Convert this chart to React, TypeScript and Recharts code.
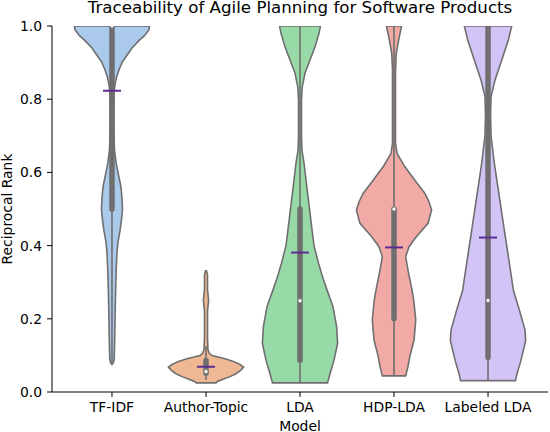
import React from 'react'
import { ScatterChart, Scatter, XAxis, YAxis } from 'recharts'

const models = ['TF-IDF', 'Author-Topic', 'LDA', 'HDP-LDA', 'Labeled LDA']
const fills = ['#abc9ea', '#efb792', '#98daa7', '#f2aaa7', '#d3c4f7']
const gray = '#6f6f6f'
const meanColor = '#5c2d91'

// violin profiles: reciprocal rank levels and half widths (in category units)
const tfidfY = [0.075, 0.08, 0.09, 0.11, 0.16, 0.22, 0.28, 0.34, 0.38, 0.41, 0.44, 0.47, 0.5, 0.53, 0.56, 0.58, 0.6, 0.62, 0.64, 0.66, 0.7, 0.74, 0.78, 0.82, 0.84, 0.86, 0.88, 0.9, 0.92, 0.94, 0.96, 0.975, 0.99, 1.0]
const tfidfW = [0, 0.016, 0.023, 0.026, 0.03, 0.034, 0.039, 0.046, 0.053, 0.064, 0.085, 0.101, 0.112, 0.106, 0.096, 0.08, 0.064, 0.048, 0.037, 0.027, 0.021, 0.019, 0.019, 0.023, 0.032, 0.048, 0.074, 0.106, 0.16, 0.213, 0.287, 0.351, 0.394, 0.4]

const authorY = [0.025, 0.028, 0.035, 0.042, 0.05, 0.06, 0.068, 0.075, 0.083, 0.09, 0.095, 0.1, 0.105, 0.115, 0.15, 0.22, 0.24, 0.25, 0.26, 0.28, 0.32, 0.331]
const authorW = [0.106, 0.117, 0.181, 0.255, 0.319, 0.372, 0.4, 0.362, 0.298, 0.213, 0.138, 0.064, 0.037, 0.021, 0.016, 0.016, 0.024, 0.028, 0.024, 0.016, 0.016, 0.005]

const ldaY = [0.025, 0.05, 0.087, 0.133, 0.178, 0.233, 0.279, 0.31, 0.352, 0.4, 0.443, 0.49, 0.534, 0.579, 0.625, 0.66, 0.7, 0.8, 0.834, 0.871, 0.907, 0.943, 0.98, 1.0]
const ldaW = [0.293, 0.319, 0.362, 0.4, 0.39, 0.351, 0.287, 0.245, 0.197, 0.149, 0.128, 0.106, 0.085, 0.064, 0.043, 0.021, 0.016, 0.016, 0.024, 0.053, 0.106, 0.16, 0.202, 0.218]

const hdpY = [0.044, 0.07, 0.096, 0.142, 0.197, 0.251, 0.279, 0.333, 0.37, 0.397, 0.424, 0.461, 0.497, 0.52, 0.543, 0.579, 0.616, 0.652, 0.68, 0.88, 0.925, 0.962, 1.0]
const hdpW = [0.124, 0.149, 0.167, 0.213, 0.231, 0.21, 0.191, 0.149, 0.124, 0.16, 0.237, 0.362, 0.4, 0.372, 0.327, 0.22, 0.114, 0.032, 0.016, 0.016, 0.024, 0.05, 0.08]

const labeledY = [0.031, 0.051, 0.087, 0.14, 0.169, 0.224, 0.279, 0.352, 0.443, 0.534, 0.625, 0.7, 0.76, 0.807, 0.852, 0.907, 0.962, 1.0]
const labeledW = [0.293, 0.309, 0.351, 0.4, 0.394, 0.333, 0.269, 0.227, 0.173, 0.12, 0.067, 0.032, 0.027, 0.032, 0.074, 0.146, 0.216, 0.252]

const profiles = [
  [tfidfY, tfidfW],
  [authorY, authorW],
  [ldaY, ldaW],
  [hdpY, hdpW],
  [labeledY, labeledW],
]

// inner box stats
const whiskerLow = [0.08, 0.033, 0.025, 0.045, 0.03]
const whiskerHigh = [1.0, 0.125, 1.0, 1.0, 1.0]
const q1 = [0.5, 0.051, 0.087, 0.2, 0.094]
const q3 = [1.0, 0.086, 0.5, 0.5, 1.0]
const medians = [1.0, 0.056, 0.249, 0.5, 0.25]
const means = [0.823, 0.069, 0.381, 0.395, 0.422]

const yTicks = [0, 0.2, 0.4, 0.6, 0.8, 1.0]
const xDomain = [-0.638, 4.638]

function outline(i: number, ys: number[], ws: number[]) {
  const right = ys.map((y, k) => ({ x: i + ws[k], y }))
  const left = ys.map((y, k) => ({ x: i - ws[k], y })).reverse()
  return [...right, ...left]
}

const noDot = () => <g />

const medianDot = (p: any) => (
  <circle cx={p.cx} cy={p.cy} r={2} fill="#fff" stroke={gray} strokeWidth={0.6} />
)

const meanMark = (p: any) => (
  <line x1={p.cx - 9} x2={p.cx + 9} y1={p.cy} y2={p.cy} stroke={meanColor} strokeWidth={2} />
)

export default function App() {
  const medianData = models.map((_, i) => ({ x: i, y: medians[i] }))
  const meanData = models.map((_, i) => ({ x: i, y: means[i] }))
  return (
    <div style={{ position: 'absolute', left: 0, top: 0, width: 550, height: 432, background: '#fff', fontFamily: 'DejaVu Sans' }}>
      <div style={{ position: 'absolute', left: 52, top: 0, width: 496, textAlign: 'center', fontSize: 16.67, lineHeight: '16.67px', color: '#000' }}>
        Traceability of Agile Planning for Software Products
      </div>
      <ScatterChart width={550} height={432} margin={{ top: 26, right: 2, left: 0, bottom: 0 }}>
        <XAxis
          type="number"
          dataKey="x"
          domain={xDomain}
          allowDataOverflow
          ticks={[0, 1, 2, 3, 4]}
          tickFormatter={(v: number) => models[v]}
          height={40}
          tickSize={5}
          tickMargin={5}
          stroke="#000"
          tick={{ fill: '#000', fontSize: 13.9 }}
          label={{ value: 'Model', position: 'insideBottom', offset: 1, fill: '#000', fontSize: 13.9 }}
        />
        <XAxis xAxisId="top" orientation="top" type="number" domain={xDomain} height={0} tick={false} tickLine={false} stroke="#000" />
        <YAxis
          type="number"
          dataKey="y"
          domain={[0, 1]}
          allowDataOverflow
          ticks={yTicks}
          tickFormatter={(v: number) => v.toFixed(1)}
          width={52}
          tickSize={5}
          tickMargin={5}
          stroke="#000"
          tick={{ fill: '#000', fontSize: 13.9 }}
          label={{ value: 'Reciprocal Rank', angle: -90, position: 'insideLeft', offset: 7, fill: '#000', fontSize: 13.9, style: { textAnchor: 'middle' } }}
        />
        <YAxis yAxisId="right" orientation="right" type="number" domain={[0, 1]} width={0} tick={false} tickLine={false} stroke="#000" />
        {profiles.map(([ys, ws], i) => (
          <Scatter
            key={'v' + i}
            data={outline(i, ys, ws)}
            shape={noDot}
            line={{ fill: fills[i], stroke: gray, strokeWidth: 1.6 }}
            lineJointType="linearClosed"
            isAnimationActive={false}
          />
        ))}
        {models.map((_, i) => (
          <Scatter
            key={'w' + i}
            data={[{ x: i, y: whiskerLow[i] }, { x: i, y: whiskerHigh[i] }]}
            shape={noDot}
            line={{ stroke: gray, strokeWidth: 1.6 }}
            isAnimationActive={false}
          />
        ))}
        {models.map((_, i) => (
          <Scatter
            key={'b' + i}
            data={[{ x: i, y: q1[i] }, { x: i, y: q3[i] }]}
            shape={noDot}
            line={{ stroke: gray, strokeWidth: 5.5, strokeLinecap: 'round' }}
            isAnimationActive={false}
          />
        ))}
        <Scatter data={medianData} shape={medianDot} isAnimationActive={false} />
        <Scatter data={meanData} shape={meanMark} isAnimationActive={false} />
      </ScatterChart>
    </div>
  )
}
